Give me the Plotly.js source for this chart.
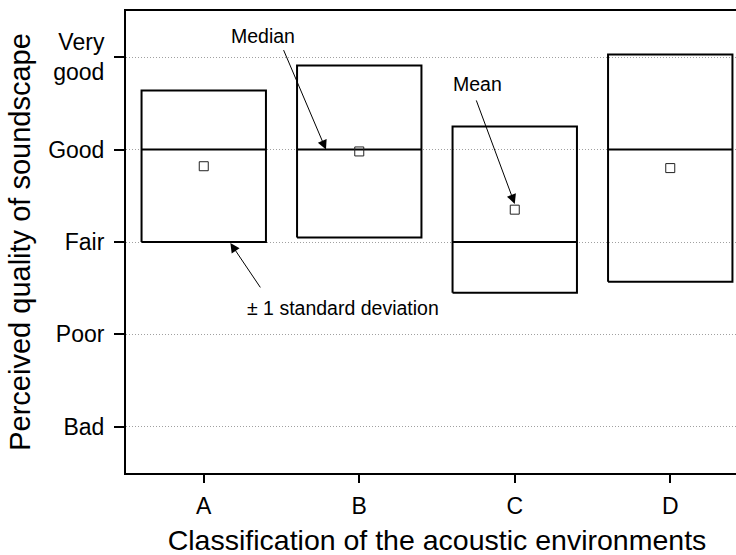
<!DOCTYPE html>
<html>
<head>
<meta charset="utf-8">
<script src="https://cdn.plot.ly/plotly-3.0.1.min.js"></script>
<style>
  html, body { margin: 0; padding: 0; overflow: hidden; background: #fff; }
  #chart { width: 760px; height: 580px; }
</style>
</head>
<body>
<div id="chart"></div>
<script>
// ---- data ----
const categories = ['A', 'B', 'C', 'D'];
const means      = [3.82, 3.98, 3.35, 3.80];
const sds        = [0.82, 0.93, 0.90, 1.23];
const medians    = [4, 4, 3, 4];
const levelVals  = [1, 2, 3, 4, 5];
const levelText  = ['Bad', 'Poor', 'Fair', 'Good', 'Very<br>good'];

// ---- build traces ----
const HALF = 0.4;
const xs = categories.map((c, i) => i + 1);

const boxX = [], boxY = [], medX = [], medY = [];
xs.forEach((x, i) => {
  const lo = means[i] - sds[i], hi = means[i] + sds[i];
  boxX.push(x - HALF, x + HALF, x + HALF, x - HALF, x - HALF, null);
  boxY.push(lo, lo, hi, hi, lo, null);
  medX.push(x - HALF, x + HALF, null);
  medY.push(medians[i], medians[i], null);
});

const FONT = '"Liberation Sans", Arial, Helvetica, sans-serif';

const traces = [
  { type: 'scatter', mode: 'lines', x: boxX, y: boxY,
    line: { color: '#000', width: 2 }, hoverinfo: 'skip', showlegend: false },
  { type: 'scatter', mode: 'lines', x: medX, y: medY,
    line: { color: '#000', width: 2 }, hoverinfo: 'skip', showlegend: false },
  { type: 'scatter', mode: 'markers', x: xs, y: means,
    marker: { symbol: 'square-open', size: 9, color: '#222', line: { width: 1, color: '#222' } },
    showlegend: false }
];

const layout = {
  width: 760, height: 580,
  margin: { l: 126, r: 12, t: 11, b: 107 },
  paper_bgcolor: '#fff', plot_bgcolor: '#fff',
  font: { family: FONT, color: '#000' },
  showlegend: false,
  xaxis: {
    range: [0.5, 4.5],
    tickvals: xs, ticktext: categories,
    showline: true, linecolor: '#000', linewidth: 2, mirror: true,
    ticks: 'outside', ticklen: 8, tickwidth: 2, tickcolor: '#000',
    ticklabelstandoff: 3,
    showgrid: false, zeroline: false,
    tickfont: { size: 23, family: FONT },
    title: { text: 'Classification of the acoustic environments', font: { size: 28.5, family: FONT }, standoff: 12 }
  },
  yaxis: {
    range: [0.5, 5.5],
    tickvals: levelVals, ticktext: levelText,
    showline: true, linecolor: '#000', linewidth: 2, mirror: true,
    ticks: 'outside', ticklen: 10, tickwidth: 2, tickcolor: '#000',
    ticklabelstandoff: 5,
    showgrid: true, gridcolor: '#a0a0a0', gridwidth: 1, griddash: '1px,2px',
    zeroline: false,
    tickfont: { size: 23, family: FONT },
    title: { text: 'Perceived quality of soundscape', font: { size: 29, family: FONT }, standoff: 9 }
  },
  annotations: [
    { x: 1.381, y: 5.234, text: 'Median', showarrow: false, font: { size: 19.5, family: FONT } },
    { x: 2.761, y: 4.708, text: 'Mean', showarrow: false, font: { size: 19.5, family: FONT } },
    { x: 1.898, y: 2.282, text: '± 1 standard deviation', showarrow: false, font: { size: 19.5, family: FONT } },
    { x: 1.786, y: 4.0, text: '', showarrow: true, ax: -43, ay: -101,
      arrowhead: 2, arrowsize: 1.9, arrowwidth: 1, arrowcolor: '#000' },
    { x: 3.0, y: 3.412, text: '', showarrow: true, ax: -39, ay: -105,
      arrowhead: 2, arrowsize: 1.9, arrowwidth: 1, arrowcolor: '#000' },
    { x: 1.171, y: 2.99, text: '', showarrow: true, ax: 31, ay: 46,
      arrowhead: 2, arrowsize: 1.9, arrowwidth: 1, arrowcolor: '#000' }
  ]
};

Plotly.newPlot('chart', traces, layout, { displayModeBar: false, staticPlot: true });
</script>
</body>
</html>
